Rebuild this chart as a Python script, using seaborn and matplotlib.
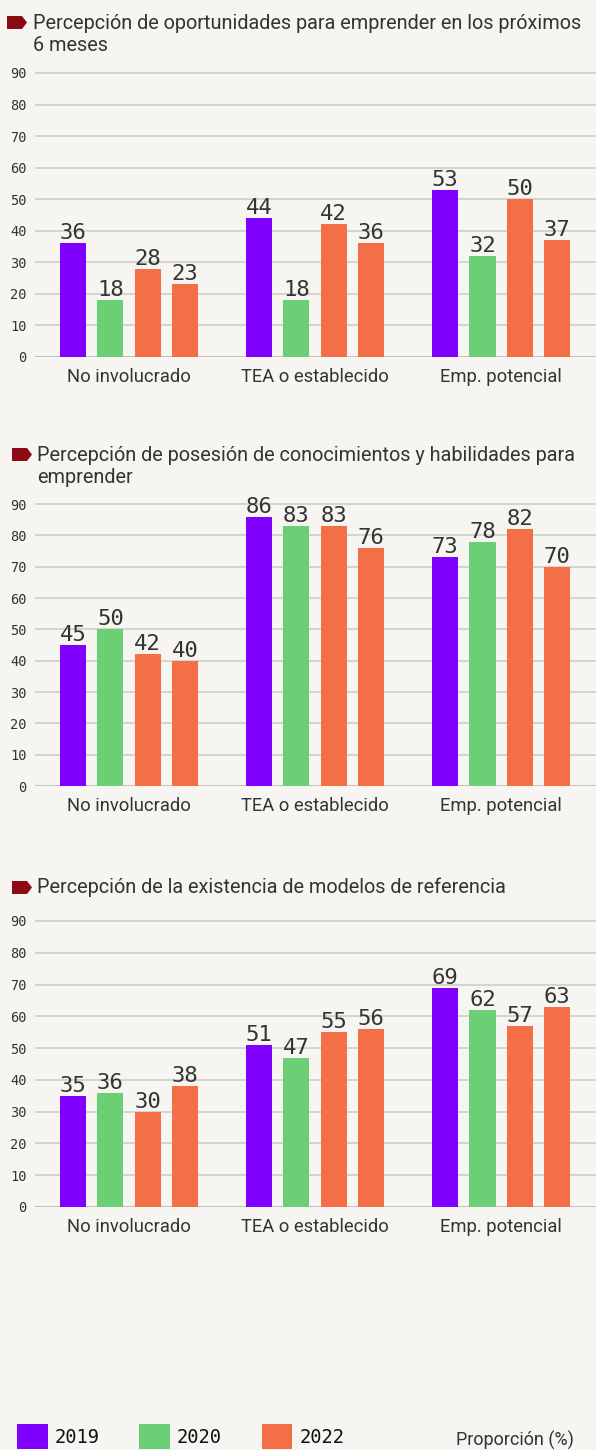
import matplotlib
matplotlib.use("Agg")
import matplotlib.pyplot as plt
from matplotlib.patches import Polygon, Patch
from matplotlib.transforms import ScaledTranslation
import numpy as np
import pandas as pd
import seaborn as sns

# ---------------- data ----------------
categorias = ["No involucrado", "TEA o establecido", "Emp. potencial"]
series = ["2019", "2020", "2022", "2022b"]
colores = ["#8000ff", "#6bcf75", "#f46e47", "#f46e47"]
leyenda_series = ["2019", "2020", "2022"]

op_2019 = [36, 44, 53]
op_2020 = [18, 18, 32]
op_2022 = [28, 42, 50]
op_2022b = [23, 36, 37]

hab_2019 = [45, 86, 73]
hab_2020 = [50, 83, 78]
hab_2022 = [42, 83, 82]
hab_2022b = [40, 76, 70]

mod_2019 = [35, 51, 69]
mod_2020 = [36, 47, 62]
mod_2022 = [30, 55, 57]
mod_2022b = [38, 56, 63]

titulo_1 = ["Percepción de oportunidades para emprender en los próximos", "6 meses"]
titulo_2 = ["Percepción de posesión de conocimientos y habilidades para", "emprender"]
titulo_3 = ["Percepción de la existencia de modelos de referencia"]

yticks = [0, 10, 20, 30, 40, 50, 60, 70, 80, 90]
nota = "Proporción (%)"

# ---------------- style ----------------
W, H = 596, 1450
BG = "#f6f5f1"
TXT = "#333333"
GRID = "#cdcbc5"
MONO = "DejaVu Sans Mono"

sns.set_style("white")
plt.rcParams["font.family"] = ["Roboto", "DejaVu Sans"]

fig = plt.figure(figsize=(W / 100, H / 100), dpi=100)
fig.patch.set_facecolor(BG)


def frame(vals_by_series):
    rows = []
    for s, vals in zip(series, vals_by_series):
        for c, v in zip(categorias, vals):
            rows.append({"grupo": c, "serie": s, "valor": v})
    return pd.DataFrame(rows)


paneles = [
    dict(vals=[op_2019, op_2020, op_2022, op_2022b], titulo=titulo_1,
         y0=357, y90=73, base=29, marker=(16, 29), mx=7, tx=33, lab_off=5),
    dict(vals=[hab_2019, hab_2020, hab_2022, hab_2022b], titulo=titulo_2,
         y0=786, y90=504, base=461, marker=(448, 461), mx=12, tx=37, lab_off=3),
    dict(vals=[mod_2019, mod_2020, mod_2022, mod_2022b], titulo=titulo_3,
         y0=1207, y90=921, base=893, marker=(881, 894), mx=12, tx=37, lab_off=-3),
]

YTOP = 92
for p in paneles:
    y0, y90 = p["y0"], p["y90"]
    ppu = (y0 - y90) / 90.0
    top = y0 - ppu * YTOP
    left, right = 35, 596
    ax = fig.add_axes([left / W, 1 - y0 / H, (right - left) / W, (y0 - top) / H])
    ax.set_facecolor(BG)
    df = frame(p["vals"])
    sns.barplot(data=df, x="grupo", y="valor", hue="serie", hue_order=series,
                order=categorias, palette=dict(zip(series, colores)),
                width=0.8, gap=0.3, saturation=1, errorbar=None,
                legend=False, ax=ax, zorder=2, linewidth=0, edgecolor="none")
    ax.set_xlim(-0.505, 2.51)
    ax.set_ylim(0, YTOP)
    ax.set_yticks(yticks)
    ax.set_yticklabels([str(t) for t in yticks], fontsize=9.8, family=MONO, color=TXT)
    off = ScaledTranslation(0, -p["lab_off"] / 100.0, fig.dpi_scale_trans)
    for lbl in ax.get_yticklabels():
        lbl.set_transform(lbl.get_transform() + off)
    ax.yaxis.grid(True, color=GRID, lw=1.1)
    ax.set_axisbelow(True)
    ax.axhline(0, color="#c4c2bb", lw=2.2, zorder=1.5)
    ax.tick_params(axis="y", length=0, pad=6)
    ax.tick_params(axis="x", length=0, pad=8, labelsize=13.2, labelcolor=TXT)
    ax.set_xlabel("")
    ax.set_ylabel("")
    for sp in ax.spines.values():
        sp.set_visible(False)
    for cont in ax.containers:
        ax.bar_label(cont, fmt="{:.0f}", padding=0, fontsize=16,
                     family=MONO, color=TXT)

    # title
    for i, line in enumerate(p["titulo"]):
        fig.text(p["tx"] / W, 1 - (p["base"] + 22 * i) / H, line, fontsize=14.3,
                 color=TXT, ha="left", va="baseline")
    mt, mb = p["marker"]
    mx = p["mx"]
    pts = [(mx, mt), (mx + 15, mt), (mx + 20, (mt + mb) / 2), (mx + 15, mb), (mx, mb)]
    fig.patches.append(Polygon([(x / W, 1 - y / H) for x, y in pts], closed=True,
                               facecolor="#8c0a14", edgecolor="none",
                               transform=fig.transFigure, figure=fig))

# legend
handles = [Patch(facecolor=c, edgecolor="none") for c in colores[:3]]
leg = fig.legend(handles, leyenda_series, loc="lower left",
                 bbox_to_anchor=(17 / W, 1 / H), ncol=3, frameon=False,
                 borderpad=0, borderaxespad=0, handlelength=1.65, handleheight=1.65,
                 handletextpad=0.37, columnspacing=2.1,
                 prop={"family": MONO, "size": 13.5})
for t in leg.get_texts():
    t.set_color("#111111")

fig.text(456 / W, 1 - 1446 / H, nota, fontsize=13, color=TXT, ha="left", va="baseline")

fig.savefig("out.png", dpi=100, facecolor=BG)
